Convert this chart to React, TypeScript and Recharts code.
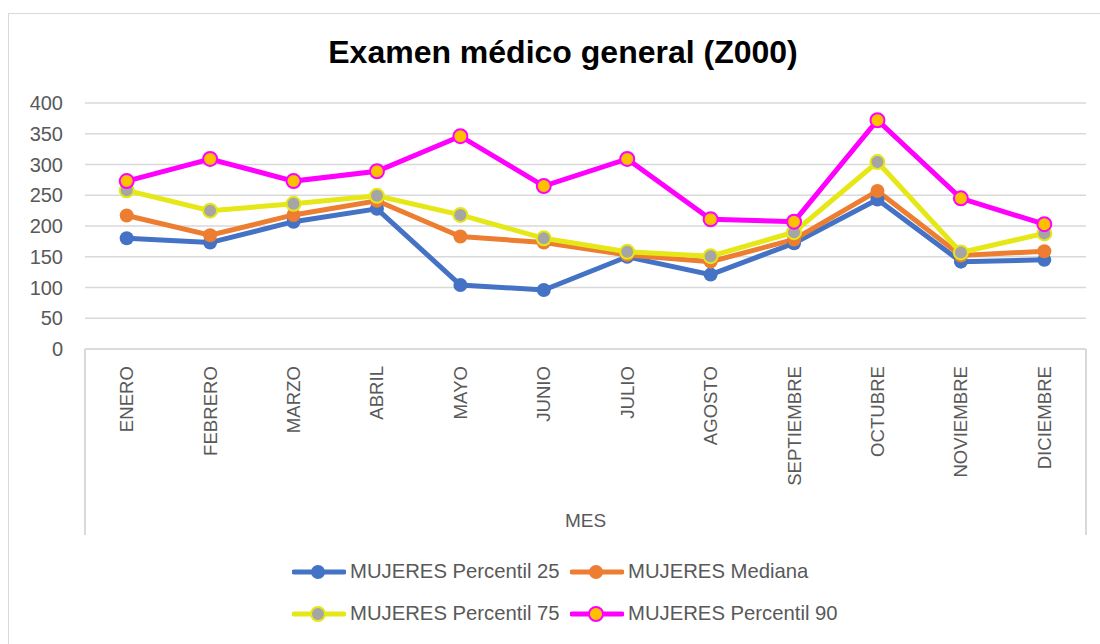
import React from 'react';
import { LineChart, Line, XAxis, YAxis, CartesianGrid } from 'recharts';

const months = ['ENERO', 'FEBRERO', 'MARZO', 'ABRIL', 'MAYO', 'JUNIO', 'JULIO', 'AGOSTO', 'SEPTIEMBRE', 'OCTUBRE', 'NOVIEMBRE', 'DICIEMBRE'];
const p25 = [180, 173, 207, 228, 104, 96, 150, 121, 172, 243, 142, 145];
const mediana = [217, 185, 218, 241, 183, 173, 153, 142, 178, 257, 152, 159];
const p75 = [258, 225, 236, 249, 218, 180, 158, 151, 190, 304, 157, 188];
const p90 = [273, 309, 273, 289, 346, 265, 309, 211, 207, 372, 245, 203];
const yTicks = [0, 50, 100, 150, 200, 250, 300, 350, 400];

const seriesInfo = [
  { key: 'p25', name: 'MUJERES Percentil 25', color: '#4472C4', fill: '#4472C4' },
  { key: 'mediana', name: 'MUJERES Mediana', color: '#ED7D31', fill: '#ED7D31' },
  { key: 'p75', name: 'MUJERES Percentil 75', color: '#E5E816', fill: '#A5A5A5' },
  { key: 'p90', name: 'MUJERES Percentil 90', color: '#FF00FF', fill: '#FFC000' },
];

const data = months.map((m, i) => ({ mes: m, p25: p25[i], mediana: mediana[i], p75: p75[i], p90: p90[i] }));

const FONT = '"Liberation Sans", Arial, sans-serif';
const TEXT = '#595959';
const GRID = '#D9D9D9';

const MonthTick = (props: any) => {
  const { x, y, payload } = props;
  return (
    <text
      transform={`translate(${x},${y + 9}) rotate(-90)`}
      textAnchor="end"
      dominantBaseline="central"
      fontSize={18.6}
      fill={TEXT}
      fontFamily={FONT}
    >
      {payload.value}
    </text>
  );
};

const LegendBlock = () => (
  <div style={{ position: 'absolute', left: 292, top: 560, display: 'grid', gridTemplateColumns: '278px 278px', rowGap: 19, fontFamily: FONT, fontSize: 20.3, color: TEXT }}>
    {seriesInfo.map((s) => (
      <div key={s.key} style={{ display: 'flex', alignItems: 'center', height: 23 }}>
        <svg width={54} height={20} style={{ marginRight: 4 }}>
          <line x1={2} y1={10} x2={52} y2={10} stroke={s.color} strokeWidth={5} strokeLinecap="round" />
          <circle cx={26} cy={10} r={7} fill={s.fill} stroke={s.color} strokeWidth={s.fill === s.color ? 0 : 2} />
        </svg>
        <span style={{ whiteSpace: 'nowrap' }}>{s.name}</span>
      </div>
    ))}
  </div>
);

export default function App() {
  return (
    <div style={{ position: 'fixed', left: 0, top: 0, width: 1100, height: 644, overflow: 'hidden', background: '#fff' }}>
      <div style={{ position: 'absolute', left: 8, top: 13, width: 1200, height: 800, border: `1px solid ${GRID}` }} />
      <div style={{ position: 'absolute', left: 563, top: 34, transform: 'translateX(-50%)', fontFamily: FONT, fontWeight: 'bold', fontSize: 32, color: '#000', whiteSpace: 'nowrap' }}>
        Examen médico general (Z000)
      </div>
      <div style={{ position: 'absolute', left: 84, top: 349, width: 1.5, height: 186, background: GRID }} />
      <div style={{ position: 'absolute', left: 1085, top: 349, width: 1.5, height: 186, background: GRID }} />
      <div style={{ position: 'absolute', left: 0, top: 0 }}>
        <LineChart width={1100} height={644} data={data} margin={{ top: 103, right: 14, left: 0, bottom: 109 }}>
          <CartesianGrid horizontal vertical={false} stroke={GRID} strokeWidth={1.5} />
          <XAxis
            dataKey="mes"
            interval={0}
            tickLine={false}
            axisLine={{ stroke: GRID, strokeWidth: 1.5 }}
            tick={<MonthTick />}
            height={186}
            padding={{ left: 41.7, right: 41.7 }}
            label={{ value: 'MES', position: 'insideBottom', offset: 8, fontSize: 19, fill: TEXT, fontFamily: FONT }}
          />
          <YAxis
            domain={[0, 400]}
            ticks={yTicks}
            interval={0}
            width={85}
            tickLine={false}
            axisLine={false}
            tickSize={0}
            tickMargin={22}
            tick={{ fontSize: 20, fill: TEXT, fontFamily: FONT }}
          />
          {seriesInfo.map((s) => (
            <Line
              key={s.key}
              type="linear"
              dataKey={s.key}
              name={s.name}
              stroke={s.color}
              strokeWidth={5}
              isAnimationActive={false}
              dot={{ r: 7, fill: s.fill, stroke: s.color, strokeWidth: s.fill === s.color ? 0 : 2 }}
              activeDot={false}
            />
          ))}
        </LineChart>
      </div>
      <LegendBlock />
    </div>
  );
}
